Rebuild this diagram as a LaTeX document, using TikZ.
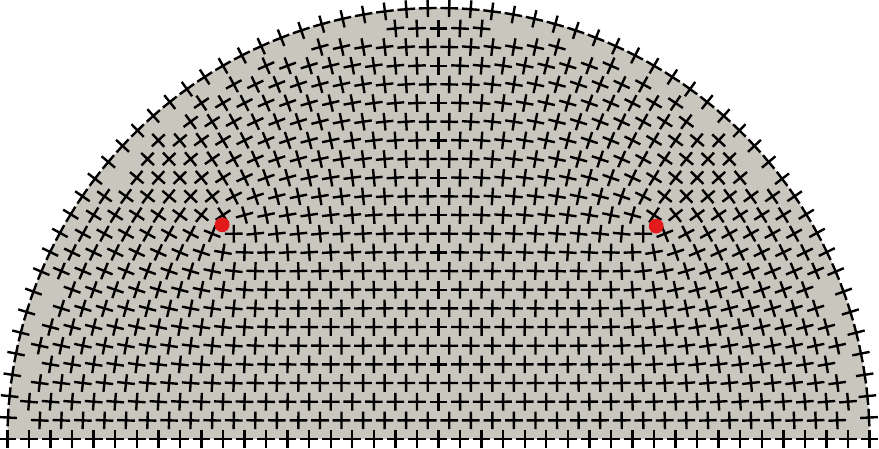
\documentclass[tikz,border=0pt]{standalone}
\definecolor{plate}{RGB}{200,198,189}
\definecolor{defect}{RGB}{226,26,28}
\tikzset{arm/.style={line width=0.68pt}}
% angle of the cross field at (#1,#2)
\newcommand{\fieldangle}[2]{%
  \pgfmathsetmacro\ang{0.25*(atan2(#2-0.5,#1-0.5)+atan2(#2-0.5,#1+0.5)+atan2(#2+0.5,#1-0.5)+atan2(#2+0.5,#1+0.5)+atan2(#2-1,#1-1)+atan2(#2-1,#1+1)+atan2(#2+1,#1-1)+atan2(#2+1,#1+1))}}
\newcommand{\crossat}[2]{%
  \fieldangle{#1}{#2}%
  \draw[arm,shift={(#1,#2)},rotate=\ang] (-0.0205,0)--(0.0205,0) (0,-0.0205)--(0,0.0205);}
\begin{document}
\begin{tikzpicture}[x=4.31cm,y=4.31cm]
\useasboundingbox (-1.0174,-0.0209) rectangle (1.0220,1.0186);
\fill[plate] (-1,0) arc (180:0:1) -- cycle;
% inner lattice
\foreach \j in {0,...,22}{
  \foreach \k in {-20,...,20}{
    \pgfmathsetmacro\px{(\k+0.5*mod(\j,2))*0.05}
    \pgfmathsetmacro\py{\j*0.0433}
    \pgfmathtruncatemacro\inside{(\px*\px+\py*\py<0.9216)}
    \ifnum\inside=1 \crossat{\px}{\py}\fi
  }
}
% points on the arc
\foreach \i in {0,...,63}{
  \pgfmathsetmacro\px{cos(\i*180/63)}
  \pgfmathsetmacro\py{sin(\i*180/63)}
  \crossat{\px}{\py}
}
% defects
\fill[defect] (-0.502,0.497) circle (0.0172);
\fill[defect] (0.505,0.494) circle (0.0172);
\end{tikzpicture}
\end{document}
